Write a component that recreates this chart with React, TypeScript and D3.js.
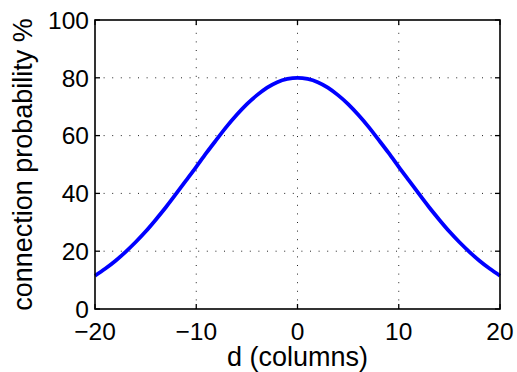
import React from "react";
import * as d3 from "d3";

const xValues = [-20,-19,-18,-17,-16,-15,-14,-13,-12,-11,-10,-9,-8,-7,-6,-5,-4,-3,-2,-1,0,1,2,3,4,5,6,7,8,9,10,11,12,13,14,15,16,17,18,19,20];
const probValues = [11.5,13.9,16.6,19.7,23.1,26.8,30.9,35.2,39.8,44.5,49.2,54.0,58.6,63.1,67.2,70.9,74.0,76.6,78.5,79.6,80,79.6,78.5,76.6,74.0,70.9,67.2,63.1,58.6,54.0,49.2,44.5,39.8,35.2,30.9,26.8,23.1,19.7,16.6,13.9,11.5];
const xTicks = [-20, -10, 0, 10, 20];
const yTicks = [0, 20, 40, 60, 80, 100];
const xLabel = "d (columns)";
const yLabel = "connection probability %";

const W = 517, H = 372;
const L = 95, R = 500, T = 20, B = 309;
const FONT = "'Liberation Sans', Arial, Helvetica, sans-serif";

export default function App() {
  const x = d3.scaleLinear().domain([-20, 20]).range([L, R]);
  const y = d3.scaleLinear().domain([0, 100]).range([B, T]);
  const line = d3.line<number>()
    .x((_, i) => x(xValues[i]))
    .y((d) => y(d))
    .curve(d3.curveNatural);
  const tickLen = 5;
  const fmt = (v: number) => (v < 0 ? "\u2212" + Math.abs(v) : String(v));
  return (
    <svg width={W} height={H} style={{ position: "absolute", left: 0, top: 0, background: "#fff" }}>
      <rect x={0} y={0} width={W} height={H} fill="#fff" />
      {/* grid */}
      {xTicks.filter((t) => t > -20 && t < 20).map((t) => (
        <line key={"gx" + t} x1={x(t)} x2={x(t)} y1={B} y2={T} stroke="#222" strokeWidth={1} strokeDasharray="1,7.6" />
      ))}
      {yTicks.filter((t) => t > 0 && t < 100).map((t) => (
        <line key={"gy" + t} x1={L} x2={R} y1={y(t)} y2={y(t)} stroke="#222" strokeWidth={1} strokeDasharray="1,7.6" />
      ))}
      {/* curve */}
      <path d={line(probValues) || ""} fill="none" stroke="#0000ff" strokeWidth={3.8} strokeLinejoin="round" />
      {/* box */}
      <rect x={L} y={T} width={R - L} height={B - T} fill="none" stroke="#000" strokeWidth={1.6} />
      {/* ticks */}
      {xTicks.map((t) => (
        <g key={"tx" + t}>
          <line x1={x(t)} x2={x(t)} y1={B} y2={B - tickLen} stroke="#000" strokeWidth={1.3} />
          <line x1={x(t)} x2={x(t)} y1={T} y2={T + tickLen} stroke="#000" strokeWidth={1.3} />
          <text x={x(t)} y={340} textAnchor="middle" fontFamily={FONT} fontSize={24.5} fill="#000">{fmt(t)}</text>
        </g>
      ))}
      {yTicks.map((t) => (
        <g key={"ty" + t}>
          <line x1={L} x2={L + tickLen} y1={y(t)} y2={y(t)} stroke="#000" strokeWidth={1.3} />
          <line x1={R} x2={R - tickLen} y1={y(t)} y2={y(t)} stroke="#000" strokeWidth={1.3} />
          <text x={89} y={y(t)} dy="0.36em" textAnchor="end" fontFamily={FONT} fontSize={24.5} fill="#000">{fmt(t)}</text>
        </g>
      ))}
      <text x={(L + R) / 2} y={366} textAnchor="middle" fontFamily={FONT} fontSize={27} fill="#000">{xLabel}</text>
      <text transform={`translate(32,${(T + B) / 2}) rotate(-90)`} textAnchor="middle" fontFamily={FONT} fontSize={27} fill="#000">{yLabel}</text>
    </svg>
  );
}
